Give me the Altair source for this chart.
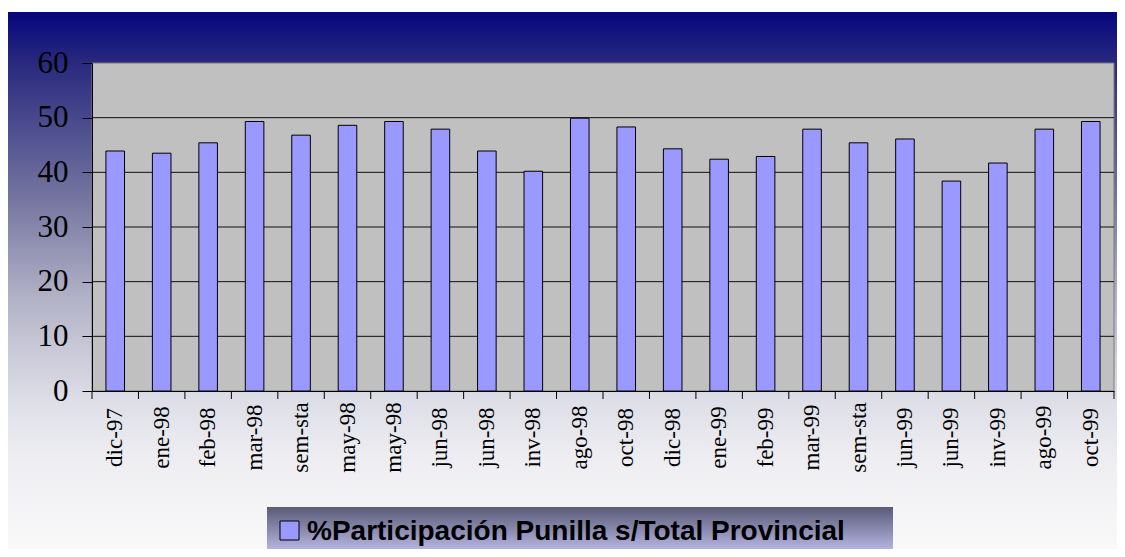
import json
import altair as alt
import pandas as pd

labels = ["dic-97", "ene-98", "feb-98", "mar-98", "sem-sta", "may-98", "may-98",
          "jun-98", "jun-98", "inv-98", "ago-98", "oct-98", "dic-98", "ene-99",
          "feb-99", "mar-99", "sem-sta", "jun-99", "jun-99", "inv-99", "ago-99", "oct-99"]
values = [43.9, 43.5, 45.4, 49.3, 46.8, 48.6, 49.3, 47.9, 43.9, 40.2, 49.9,
          48.3, 44.3, 42.4, 42.9, 47.9, 45.4, 46.1, 38.4, 41.7, 47.9, 49.3]
y_ticks = [0, 10, 20, 30, 40, 50, 60]
grid_vals = [10, 20, 30, 40, 50]
legend_label = ["%Participación Punilla s/Total Provincial"]

TOTAL_W, TOTAL_H = 1109, 541
W, H = 1022, 328
PL, PT = 84, 55

df = pd.DataFrame({"idx": list(range(len(labels))), "label": labels, "value": values})
one = pd.DataFrame({"a": [0]})

label_expr = json.dumps(labels, ensure_ascii=False) + "[datum.value]"

xscale = alt.Scale(paddingInner=0, paddingOuter=0)
yscale = alt.Scale(domain=[0, 60], nice=False)

x_axis = alt.Axis(
    title=None, labelExpr=label_expr, labelAngle=-90, labelAlign="center",
    labelBaseline="middle", labelFont="Liberation Serif", labelFontSize=23,
    labelColor="#000", ticks=False, tickSize=0, labelPadding=46,
    domain=True, domainColor="#000", domainWidth=1, grid=False, zindex=1,
)
y_axis = alt.Axis(
    title=None, values=y_ticks, labelFont="Liberation Serif", labelFontSize=31,
    labelColor="#000", tickColor="#000", tickSize=10, labelPadding=14,
    domainColor="#000", domainWidth=1, grid=False, zindex=1,
)

bg = alt.Chart(one).mark_rect(
    fill=alt.Gradient(
        gradient="linear", x1=0, x2=0, y1=0, y2=1,
        stops=[
            alt.GradientStop(offset=0, color="#06067e"),
            alt.GradientStop(offset=0.09, color="#28287e"),
            alt.GradientStop(offset=0.35, color="#7878a2"),
            alt.GradientStop(offset=0.53, color="#b4b4c8"),
            alt.GradientStop(offset=0.71, color="#dedee8"),
            alt.GradientStop(offset=0.82, color="#eeeef2"),
            alt.GradientStop(offset=1, color="#fafafa"),
        ],
    )
).encode(x=alt.value(-PL), x2=alt.value(TOTAL_W - PL), y=alt.value(4 - PT), y2=alt.value(TOTAL_H - PT + 10))

plot_bg = alt.Chart(one).mark_rect(fill="#c0c0c0", stroke="#7a7a7a", strokeWidth=1).encode(
    x=alt.value(0), x2=alt.value(W), y=alt.value(0), y2=alt.value(H)
)

grid = alt.Chart(pd.DataFrame({"g": grid_vals})).mark_rule(color="#111", strokeWidth=1).encode(
    y=alt.Y("g:Q", scale=yscale, axis=y_axis),
    x=alt.value(0), x2=alt.value(W),
)

bars = alt.Chart(df).mark_bar(
    width=alt.RelativeBandSize(0.4), fill="#9999ff", stroke="#000", strokeWidth=1
).encode(
    x=alt.X("idx:O", scale=xscale, axis=x_axis),
    y=alt.Y("value:Q", scale=yscale, axis=y_axis),
)

ticks = alt.Chart(df).mark_rule(color="#000", strokeWidth=1).encode(
    x=alt.X("idx:O", scale=xscale, axis=x_axis, bandPosition=0),
    y=alt.value(H), y2=alt.value(H + 8),
)
last_tick = alt.Chart(one).mark_rule(color="#000", strokeWidth=1).encode(
    x=alt.value(W), y=alt.value(H), y2=alt.value(H + 8)
)

leg_box = alt.Chart(one).mark_rect(
    fill=alt.Gradient(
        gradient="linear", x1=0, x2=0, y1=0, y2=1,
        stops=[
            alt.GradientStop(offset=0, color="#5a5a76"),
            alt.GradientStop(offset=1, color="#c4c4f4"),
        ],
    )
).encode(x=alt.value(175), x2=alt.value(801), y=alt.value(444), y2=alt.value(TOTAL_H - PT + 8))

leg_swatch = alt.Chart(one).mark_rect(fill="#9999ff", stroke="#000", strokeWidth=1).encode(
    x=alt.value(188), x2=alt.value(207), y=alt.value(458), y2=alt.value(477)
)

leg_text = alt.Chart(pd.DataFrame({"t": legend_label})).mark_text(
    font="Liberation Sans", fontWeight="bold", fontSize=28, align="left",
    baseline="alphabetic", color="#000"
).encode(text="t:N", x=alt.value(215), y=alt.value(477))

chart = alt.layer(
    bg, plot_bg, grid, bars, ticks, last_tick, leg_box, leg_swatch, leg_text
).properties(
    width=W, height=H,
    autosize=alt.AutoSizeParams(type="none"),
    padding={"left": PL, "top": PT, "right": TOTAL_W - PL - W, "bottom": TOTAL_H - PT - H},
).configure_view(stroke=None)

chart.save("out.html", embed_options={"renderer": "svg", "actions": False})
